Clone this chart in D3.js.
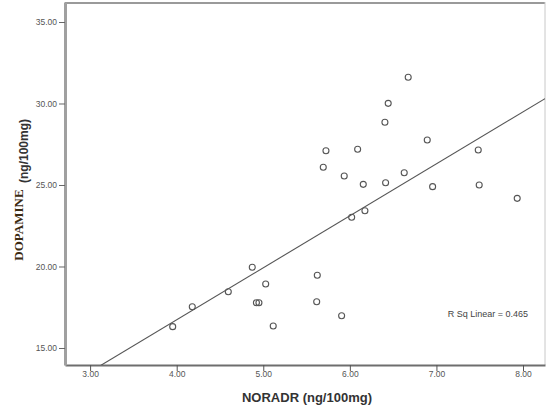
<!DOCTYPE html>
<html>
<head>
<meta charset="utf-8">
<script src="https://cdn.jsdelivr.net/npm/d3@7"></script>
<style>
html,body{margin:0;padding:0;background:#fff;}
svg{display:block;}
</style>
</head>
<body>
<script>
// Data
const noradr = [6.674, 6.443, 6.405, 6.894, 5.724, 6.090, 5.693, 5.935, 6.155, 6.413, 6.628, 6.956, 6.021, 6.174,
                3.954, 4.180, 4.596, 4.873, 5.028, 4.921, 4.950, 5.115, 5.624, 5.617, 5.905, 7.483, 7.494, 7.933];
const dopamine = [31.61, 30.01, 28.85, 27.76, 27.10, 27.19, 26.09, 25.55, 25.04, 25.14, 25.75, 24.90, 23.02, 23.42,
                  16.31, 17.53, 18.45, 19.95, 18.93, 17.78, 17.78, 16.35, 19.46, 17.84, 16.98, 27.15, 25.00, 24.18];
const xTicks = [3, 4, 5, 6, 7, 8];
const yTicks = [15, 20, 25, 30, 35];
const fitIntercept = 3.97;
const fitSlope = 3.19;
const rSqLabel = "R Sq Linear = 0.465";
const xTitle = "NORADR (ng/100mg)";
const yTitleMain = "DOPAMINE";
const yTitleUnit = "(ng/100mg)";

const W = 546, H = 411;
const pL = 65, pR = 545, pT = 2, pB = 365;

const svg = d3.select("body").append("svg").attr("width", W).attr("height", H);

const x = d3.scaleLinear().domain([2.710, 8.254]).range([pL, pR]);
const y = d3.scaleLinear().domain([13.957, 36.227]).range([pB, pT]);

// frame: top & right
svg.append("line").attr("x1", pL).attr("x2", pR).attr("y1", pT + 1).attr("y2", pT + 1)
  .attr("stroke", "#9a9a9a").attr("stroke-width", 2);
svg.append("line").attr("x1", pR).attr("x2", pR).attr("y1", pT).attr("y2", pB)
  .attr("stroke", "#c8c8c8").attr("stroke-width", 1);

// axes
const gx = svg.append("g").attr("transform", `translate(0,${pB})`)
  .call(d3.axisBottom(x).tickValues(xTicks).tickFormat(d3.format(".2f")).tickSize(6).tickSizeOuter(0));
gx.select(".domain").attr("stroke", "#6e6e6e").attr("stroke-width", 2);
gx.selectAll(".tick line").attr("stroke", "#555").attr("stroke-width", 1);
gx.selectAll(".tick text").attr("font-family", "Liberation Sans, Arial, sans-serif").attr("font-size", 8.5)
  .attr("fill", "#555").attr("dy", "0.6em").attr("y", 7);

const gy = svg.append("g").attr("transform", `translate(${pL},0)`)
  .call(d3.axisLeft(y).tickValues(yTicks).tickFormat(d3.format(".2f")).tickSize(6).tickSizeOuter(0));
gy.select(".domain").attr("stroke", "#a0a0a0").attr("stroke-width", 3);
gy.selectAll(".tick line").attr("stroke", "#666").attr("stroke-width", 1);
gy.selectAll(".tick text").attr("font-family", "Liberation Sans, Arial, sans-serif").attr("font-size", 8.5)
  .attr("fill", "#555").attr("x", -8);

// clip
svg.append("clipPath").attr("id", "clip").append("rect")
  .attr("x", pL).attr("y", pT).attr("width", pR - pL).attr("height", pB - pT);

// fit line
const x0 = x.domain()[0], x1 = x.domain()[1];
svg.append("line").attr("clip-path", "url(#clip)")
  .attr("x1", x(x0)).attr("y1", y(fitIntercept + fitSlope * x0))
  .attr("x2", x(x1)).attr("y2", y(fitIntercept + fitSlope * x1))
  .attr("stroke", "#555").attr("stroke-width", 1.1);

// points
svg.append("g").selectAll("circle").data(noradr.map((v, i) => [v, dopamine[i]])).join("circle")
  .attr("cx", d => x(d[0])).attr("cy", d => y(d[1])).attr("r", 3)
  .attr("fill", "none").attr("stroke", "#555").attr("stroke-width", 1.1);

// R sq label
svg.append("text").attr("x", 528).attr("y", 317).attr("text-anchor", "end")
  .attr("font-family", "Liberation Sans, Arial, sans-serif").attr("font-size", 9).attr("fill", "#444")
  .text(rSqLabel);

// x title
svg.append("text").attr("x", 307).attr("y", 402).attr("text-anchor", "middle")
  .attr("font-family", "Liberation Sans, Arial, sans-serif").attr("font-weight", "bold")
  .attr("font-size", 13).attr("fill", "#333")
  .text(xTitle);

// y title
svg.append("text").attr("transform", "translate(23,225) rotate(-90)").attr("text-anchor", "middle")
  .attr("font-family", "Liberation Serif, Times New Roman, serif").attr("font-weight", "bold")
  .attr("font-size", 13).attr("fill", "#3b2a12").text(yTitleMain);
svg.append("text").attr("transform", "translate(28,151) rotate(-90)").attr("text-anchor", "middle")
  .attr("font-family", "Liberation Sans, Arial, sans-serif").attr("font-weight", "bold")
  .attr("font-size", 12).attr("fill", "#333").text(yTitleUnit);
</script>
</body>
</html>
